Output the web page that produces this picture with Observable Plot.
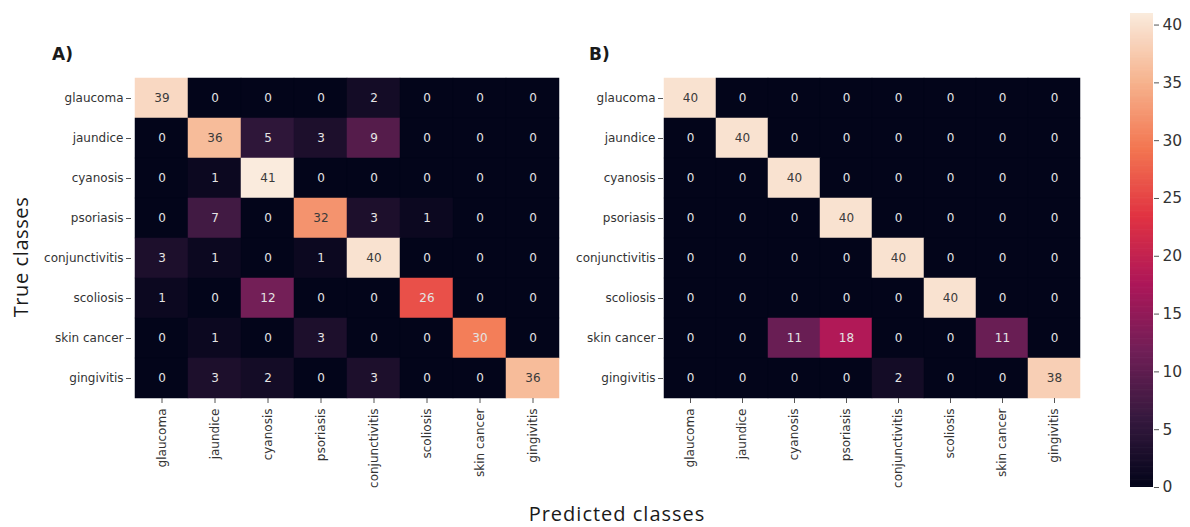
<!DOCTYPE html>
<html>
<head>
<meta charset="utf-8">
<script src="https://cdn.jsdelivr.net/npm/d3@7"></script>
<script src="https://cdn.jsdelivr.net/npm/@observablehq/plot@0.6"></script>
<style>
  html, body { margin: 0; padding: 0; background: #fff; }
  #wrap { position: relative; width: 1190px; height: 527px; overflow: hidden; background: #fff; }
  #wrap svg { position: absolute; top: 0; background: transparent; }
  .lbl { position: absolute; white-space: nowrap; color: #1a1a1a; }
</style>
</head>
<body>
<div id="wrap">
  <div class="lbl" style="left:52px; top:44px; font: bold 17px 'DejaVu Sans';">A)</div>
  <div class="lbl" style="left:589px; top:44px; font: bold 17px 'DejaVu Sans';">B)</div>
  <div class="lbl" style="left:617px; top:500px; transform: translateX(-50%); font: 20px 'Open Sans'; letter-spacing: 1px;">Predicted classes</div>
  <div class="lbl" style="left:20px; top:257px; transform: translate(-50%,-50%) rotate(-90deg); font: 20px 'Open Sans'; letter-spacing: 0.6px;">True classes</div>
</div>
<script>
// ---- data ----
const classes = ["glaucoma", "jaundice", "cyanosis", "psoriasis", "conjunctivitis", "scoliosis", "skin cancer", "gingivitis"];

// panel A: rows = true class, columns = predicted class
const matrixA = [
  [39, 0, 0, 0, 2, 0, 0, 0],
  [0, 36, 5, 3, 9, 0, 0, 0],
  [0, 1, 41, 0, 0, 0, 0, 0],
  [0, 7, 0, 32, 3, 1, 0, 0],
  [3, 1, 0, 1, 40, 0, 0, 0],
  [1, 0, 12, 0, 0, 26, 0, 0],
  [0, 1, 0, 3, 0, 0, 30, 0],
  [0, 3, 2, 0, 3, 0, 0, 36]
];

// panel B
const matrixB = [
  [40, 0, 0, 0, 0, 0, 0, 0],
  [0, 40, 0, 0, 0, 0, 0, 0],
  [0, 0, 40, 0, 0, 0, 0, 0],
  [0, 0, 0, 40, 0, 0, 0, 0],
  [0, 0, 0, 0, 40, 0, 0, 0],
  [0, 0, 0, 0, 0, 40, 0, 0],
  [0, 0, 11, 18, 0, 0, 11, 0],
  [0, 0, 0, 0, 2, 0, 0, 38]
];

const colorTicks = [0, 5, 10, 15, 20, 25, 30, 35, 40];
const colorMax = 41;

// seaborn "rocket" colormap stops
const rocketStops = ["#03051a", "#35193e", "#701f57", "#ad1759", "#e13342", "#f37651", "#f6b48f", "#faebdd"];
const rocket = d3.piecewise(d3.interpolateRgb, rocketStops);

function toTable(matrix) {
  const out = [];
  matrix.forEach((row, i) => row.forEach((v, j) => out.push({truth: classes[i], pred: classes[j], value: v})));
  return out;
}
function lum(v) {
  const c = d3.rgb(rocket(Math.min(1, v / colorMax)));
  const f = x => { x /= 255; return x <= 0.03928 ? x / 12.92 : Math.pow((x + 0.055) / 1.055, 2.4); };
  return 0.2126 * f(c.r) + 0.7152 * f(c.g) + 0.0722 * f(c.b);
}

const colorOpts = {type: "linear", domain: [0, colorMax], interpolate: rocket};

function heatmap(matrix, w, ml, mr) {
  const data = toTable(matrix);
  return Plot.plot({
    width: w, height: 527,
    marginLeft: ml, marginRight: mr, marginTop: 77, marginBottom: 129,
    x: {domain: classes, padding: 0},
    y: {domain: classes, padding: 0},
    color: colorOpts,
    style: {fontFamily: "DejaVu Sans", fontSize: "12px", color: "#333", background: "transparent", overflow: "visible"},
    marks: [
      Plot.cell(data, {x: "pred", y: "truth", fill: "value", stroke: "value", strokeWidth: 0.5, inset: 0}),
      Plot.text(data, {filter: d => lum(d.value) <= 0.408, x: "pred", y: "truth", text: "value", fill: "#e4e4e4", fontSize: 12}),
      Plot.text(data, {filter: d => lum(d.value) > 0.408, x: "pred", y: "truth", text: "value", fill: "#3a3a3a", fontSize: 12}),
      Plot.axisX({anchor: "bottom", tickRotate: -90, tickSize: 5, tickPadding: 5, label: null, fontSize: 12, stroke: "#555"}),
      Plot.axisY({anchor: "left", tickSize: 5, tickPadding: 3, label: null, fontSize: 12, stroke: "#555"})
    ]
  });
}

const wrap = document.getElementById("wrap");

const svgA = heatmap(matrixA, 570, 131, 8);
svgA.style.left = "0px";
wrap.appendChild(svgA);

const svgB = heatmap(matrixB, 520, 93, 10);
svgB.style.left = "570px";
wrap.appendChild(svgB);

// colorbar
const steps = d3.range(0, colorMax, colorMax / 400);
const cbar = Plot.plot({
  width: 90, height: 527,
  marginLeft: 30, marginRight: 37, marginTop: 13, marginBottom: 40,
  x: {domain: [0, 1], axis: null},
  y: {domain: [0, colorMax], axis: null},
  color: colorOpts,
  style: {fontFamily: "DejaVu Sans", fontSize: "15.5px", color: "#333", background: "transparent", overflow: "visible"},
  marks: [
    Plot.rect(steps, {x1: 0, x2: 1, y1: d => d, y2: d => Math.min(colorMax, d + colorMax / 400 * 1.6), fill: d => d + colorMax / 800}),
    Plot.axisY({anchor: "right", ticks: colorTicks, tickSize: 5, tickPadding: 4, label: null, fontSize: 15.5, stroke: "#555"})
  ]
});
cbar.style.left = "1100px";
wrap.appendChild(cbar);
</script>
</body>
</html>
